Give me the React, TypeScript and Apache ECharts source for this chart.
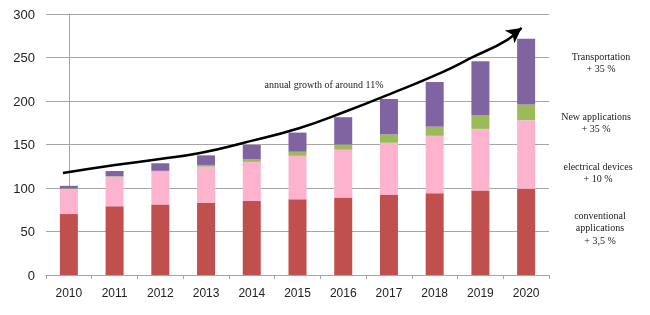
import React, { useEffect, useRef } from "react";
import * as echarts from "echarts";

const years = ["2010", "2011", "2012", "2013", "2014", "2015", "2016", "2017", "2018", "2019", "2020"];
const conventional = [70, 79, 81, 83, 85, 87, 89, 92, 94, 97, 99];
const electrical = [29, 34, 38, 41.5, 45, 50, 55, 60, 66, 71, 79];
const newApps = [0.5, 0.5, 0.8, 2, 3, 4.7, 6, 9.6, 10.5, 16, 18];
const transport = [3, 6, 8.6, 11, 16.4, 22, 31.4, 40.7, 51.3, 61.6, 75.6];

// growth curve: [year position (0 = 2010), value]
const curveX = [-0.13, 1.01, 1.99, 2.87, 3.81, 5.05, 6.08, 7.02, 8.12, 8.84, 9.58, 9.9];
const curveY = [117.2, 126.4, 133.3, 140.2, 151.7, 169, 188.5, 208, 232, 250.6, 270, 284];

const yTicks = { min: 0, max: 300, interval: 50 };

const notes = [
  { lines: ["Transportation", "+ 35 %"], x: 601, y: 50 },
  { lines: ["New applications", "+ 35 %"], x: 596, y: 110 },
  { lines: ["electrical devices", "+ 10 %"], x: 598, y: 160 },
  { lines: ["conventional", "applications", "+ 3,5 %"], x: 600, y: 209 },
];

export default function App() {
  const ref = useRef<HTMLDivElement>(null);
  useEffect(() => {
    if (!ref.current) return;
    const chart = echarts.init(ref.current, null, { renderer: "svg" });
    const gray = "#A6A6A6";
    const serif = "'Liberation Serif', 'Times New Roman', serif";
    const barBase = { type: "bar", stack: "total", barWidth: 18, xAxisIndex: 0, yAxisIndex: 0 };
    const lineData = curveX.map((x, i) => {
      if (i === curveX.length - 1) {
        return {
          value: [x, curveY[i]],
          symbol: "arrow",
          symbolSize: [12, 15],
          symbolRotate: -53,
          itemStyle: { color: "#000" },
        };
      }
      return { value: [x, curveY[i]], symbol: "none" };
    });
    chart.setOption({
      animation: false,
      grid: { left: 46, right: 101, top: 14, bottom: 40, containLabel: false },
      xAxis: [
        {
          type: "category",
          data: years,
          axisLine: { lineStyle: { color: gray, width: 1 } },
          axisTick: { show: true, length: 4, lineStyle: { color: gray } },
          axisLabel: { color: "#222", fontFamily: "'Liberation Sans', Arial, sans-serif", fontSize: 12, margin: 12 },
          splitLine: { show: false },
        },
        { type: "value", min: -0.5, max: 10.5, show: false },
      ],
      yAxis: {
        type: "value",
        min: yTicks.min,
        max: yTicks.max,
        interval: yTicks.interval,
        axisLine: { show: true, lineStyle: { color: gray, width: 1 } },
        axisTick: { show: true, length: 5, lineStyle: { color: gray } },
        axisLabel: { color: "#222", fontFamily: "'Liberation Sans', Arial, sans-serif", fontSize: 13, margin: 11 },
        splitLine: { show: true, lineStyle: { color: gray, width: 1 } },
      },
      series: [
        { ...barBase, name: "conventional applications", data: conventional, itemStyle: { color: "#C0504D" } },
        { ...barBase, name: "electrical devices", data: electrical, itemStyle: { color: "#FDB3CD" } },
        { ...barBase, name: "New applications", data: newApps, itemStyle: { color: "#9BBB59" } },
        { ...barBase, name: "Transportation", data: transport, itemStyle: { color: "#8064A2" } },
        {
          type: "line",
          name: "growth",
          xAxisIndex: 1,
          yAxisIndex: 0,
          data: lineData,
          smooth: true,
          showSymbol: true,
          lineStyle: { color: "#000", width: 2.5 },
          itemStyle: { color: "#000" },
          z: 5,
        },
      ],
      graphic: [
        {
          type: "text",
          x: 324,
          y: 79,
          style: {
            text: "annual growth of around 11%",
            fill: "#222",
            fontFamily: serif,
            fontSize: 10,
            textAlign: "center",
          },
        },
        ...notes.map((n) => ({
          type: "text",
          x: n.x,
          y: n.y,
          style: {
            text: n.lines.join("\n"),
            fill: "#222",
            fontFamily: serif,
            fontSize: 10,
            textAlign: "center",
            lineHeight: 12.5,
          },
        })),
      ],
    });
    return () => chart.dispose();
  }, []);
  return <div ref={ref} style={{ position: "fixed", left: 0, top: 0, width: 650, height: 315 }} />;
}
